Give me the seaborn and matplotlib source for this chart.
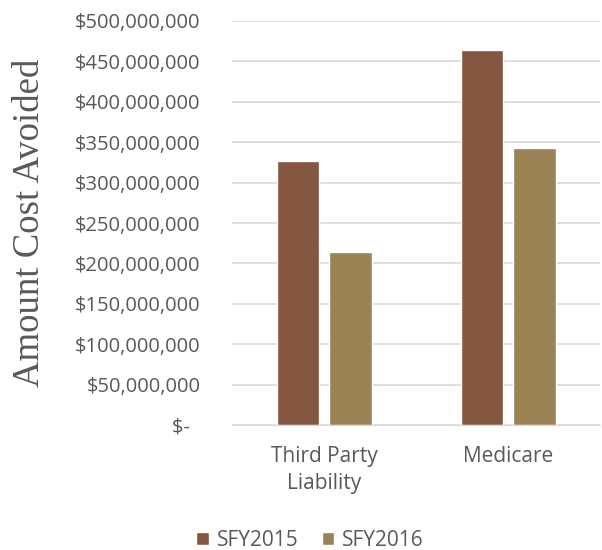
import pandas as pd
import numpy as np
import matplotlib.pyplot as plt
import matplotlib.ticker as mticker
import seaborn as sns

categories = ["Third Party\nLiability", "Medicare"]
years = ["SFY2015", "SFY2016"]
sfy2015 = [327_000_000, 464_000_000]
sfy2016 = [214_000_000, 343_000_000]

df = pd.DataFrame({
    "Category": categories * 2,
    "Year": [years[0]] * 2 + [years[1]] * 2,
    "Amount": sfy2015 + sfy2016,
})

sns.set_style("white")
plt.rcParams['font.family'] = ['Open Sans', 'DejaVu Sans']

fig = plt.figure(figsize=(6.02, 5.5), dpi=100)
ax = fig.add_axes([0.386, 0.227, 0.611, 0.735])

palette = {"SFY2015": "#855640", "SFY2016": "#9B8254"}
sns.barplot(data=df, x="Category", y="Amount", hue="Year", palette=palette,
            width=0.571, gap=0.19, ax=ax, saturation=1, legend=True)

def money(v, pos):
    if v == 0:
        return "$-  "
    return "${:,.0f}".format(v)

ax.set_ylim(0, 500_000_000)
ax.yaxis.set_major_locator(mticker.MultipleLocator(50_000_000))
ax.yaxis.set_major_formatter(mticker.FuncFormatter(money))
ax.grid(axis="y", color="#D9D9D9", linewidth=1.2)
ax.set_axisbelow(True)
for s in ax.spines.values():
    s.set_visible(False)
ax.spines["bottom"].set_visible(True)
ax.spines["bottom"].set_color("#D9D9D9")
ax.tick_params(axis="both", length=0, colors="#595959")
ax.tick_params(axis="y", pad=23, labelsize=14.5)
ax.tick_params(axis="x", pad=15, labelsize=15)
for t in ax.get_xticklabels():
    t.set_linespacing(1.4)
ax.set_xlabel("")
ax.set_ylabel("Amount Cost Avoided", family="Liberation Serif", fontsize=26.5,
              color="#595959")
ax.yaxis.set_label_coords(-0.505, 0.5)

handles, labels = ax.get_legend_handles_labels()
ax.legend_.remove()
fig.legend(handles, labels, loc="center", bbox_to_anchor=(0.515, 0.018), ncol=2,
           frameon=False, fontsize=15, labelcolor="#595959", handlelength=0.6,
           handleheight=0.6, handletextpad=0.4, columnspacing=1.1)

fig.savefig("out.png", dpi=100)
